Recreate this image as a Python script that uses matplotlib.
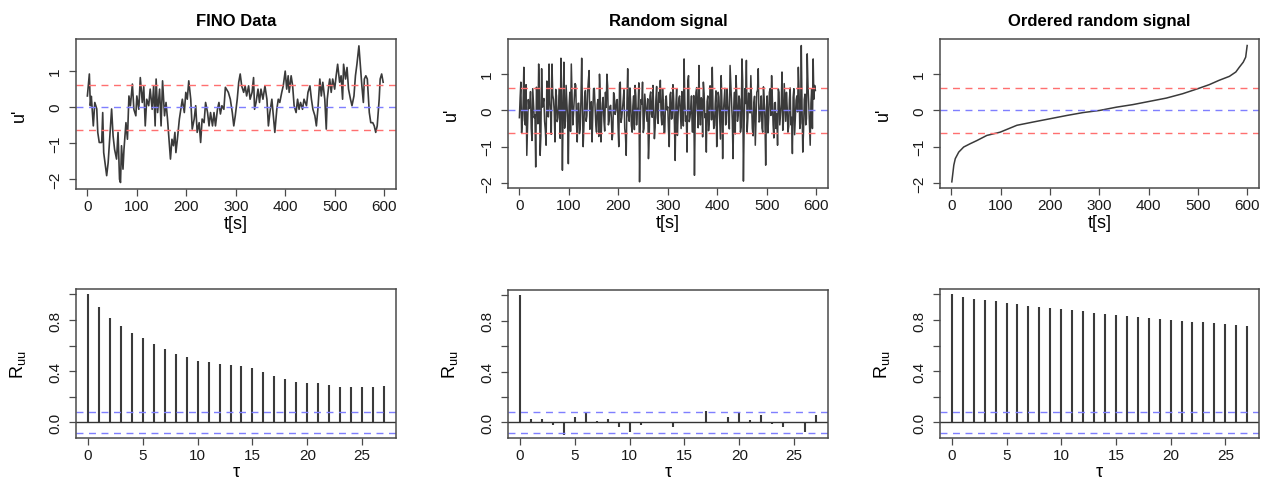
#Grafico de 6 paineis: series temporais (linha de cima) e autocorrelacao (linha de baixo)
import matplotlib
matplotlib.use('Agg')
import matplotlib.pyplot as plt

plt.rcParams['font.family'] = ['Liberation Sans', 'DejaVu Sans']

#Dados FINO
fino_t = [0, 4, 6, 8, 12, 15, 19, 21, 24, 29, 31, 33, 39, 42, 49, 52, 55, 59, 62, 65, 67, 69, 72, 74, 78, 81,
          84, 87, 91, 94, 98, 100, 104, 107, 111, 114, 117, 120, 124, 127, 131, 134, 137, 139, 142, 146, 149,
          152, 156, 159, 162, 166, 168, 171, 174, 177, 179, 182, 186, 189, 192, 196, 199, 202, 205, 209, 212,
          216, 219, 222, 226, 229, 232, 236, 239, 243, 246, 249, 253, 256, 259, 263, 266, 269, 272, 276, 279,
          285, 289, 293, 296, 299, 303, 306, 309, 312, 316, 319, 322, 326, 329, 333, 336, 338, 341, 345, 348,
          351, 355, 359, 363, 366, 369, 373, 376, 379, 383, 386, 389, 393, 396, 400, 403, 406, 408, 412, 415,
          418, 422, 425, 428, 431, 435, 438, 443, 446, 450, 453, 456, 460, 463, 466, 470, 473, 476, 480, 483,
          485, 488, 490, 493, 496, 500, 503, 506, 510, 513, 516, 518, 522, 525, 528, 532, 535, 539, 542, 545,
          549, 552, 555, 558, 560, 563, 566, 570, 573, 577, 580, 583, 586, 590, 592, 595, 598]
fino_u = [0.31, 0.92, 0.04, 0.30, -0.52, 0.13, -0.05, -0.70, -0.98, -0.98, -0.15, -1.26, -1.90, -1.54, -0.05,
          -0.80, -1.17, -1.44, -0.70, -2.00, -2.09, -1.07, -1.72, -1.17, -0.43, -0.89, 0.31, 0.04, 0.64, -0.06,
          -0.24, 0.31, -0.06, 0.82, 0.13, 0.57, -0.52, 0.22, 0.04, 0.50, -0.06, 0.59, -0.52, 0.78, -0.15, 0.50,
          -0.52, 0.73, -0.24, 0.13, -0.33, -1.07, -1.44, -0.89, -1.07, -0.70, -1.26, -0.89, -0.33, -0.06, 0.22,
          -0.15, 0.41, 0.22, 0.73, 0.22, -0.61, -0.33, 0.04, -0.70, -0.43, -0.98, -0.33, -0.43, 0.13, -0.15,
          -0.52, -0.15, -0.52, -0.15, -0.52, -0.06, 0.13, -0.19, 0.04, -0.06, 0.55, 0.41, 0.22, -0.15, -0.52,
          -0.24, 0.22, 0.69, 0.92, 0.59, 0.41, 0.59, 0.31, 0.59, 0.22, 0.41, 0.82, -0.06, 0.13, 0.50, 0.13,
          0.50, 0.22, 0.59, 0.22, -0.52, -0.15, 0.22, -0.24, -0.70, -0.06, 0.22, 0.13, 0.41, 0.59, 1.00, 0.50,
          0.87, 0.41, 0.87, 0.59, 0.04, -0.15, 0.22, -0.06, 0.13, -0.06, 0.22, 0.04, 0.41, 0.59, 0.22, -0.06,
          -0.24, -0.52, -0.06, 0.78, 0.31, 0.69, 0.22, -0.61, 0.22, 0.59, 0.78, 0.41, 0.78, 0.50, 0.87, 1.19,
          0.69, 0.87, 0.22, 1.19, 0.78, 1.10, 0.50, 0.22, 0.04, 0.31, 0.87, 1.19, 1.70, 1.15, 0.59, 0.13, 0.78,
          0.87, 0.78, -0.15, -0.43, -0.43, -0.52, -0.70, -0.52, 0.22, 0.78, 0.92, 0.69]

#Sinal aleatorio: picos a cada 3 s
rand_t = list(range(0, 600, 3))
rand_u = [-0.20, 0.78, -0.30, 1.19, -0.40, -1.24, 0.30, 0.10, -0.50, 0.60, -0.20, -1.56, 0.40, 1.28, -1.24,
          1.15, 0.20, -0.30, -0.96, 0.50, 1.28, -0.10, 1.28, 0.30, -0.87, 0.40, -0.20, 0.60, 1.44, -1.65,
          1.33, -0.30, 0.20, -1.47, 0.50, 1.28, -0.40, 0.30, 0.70, -0.87, 0.20, -0.50, 1.44, -1.00, 0.40,
          -0.30, 0.50, 1.10, -0.40, -0.87, 0.60, 0.10, -0.60, 0.30, 1.00, -0.87, 0.20, -0.30, 0.50, 1.00,
          -0.40, 0.10, -0.20, -0.60, 0.40, 0.00, 0.30, -1.00, 0.78, -0.20, 0.30, -0.50, -1.24, 1.15, -0.30,
          0.20, -0.60, 0.40, 0.69, -0.40, 0.10, -1.97, 0.30, 0.78, -0.50, 0.20, -0.30, -1.33, 0.40, -0.10,
          0.69, -0.78, 0.30, -0.20, 0.50, 0.83, -0.40, 0.20, -0.60, 0.40, 0.10, -1.00, 0.50, -0.20, 0.30,
          -1.38, 0.60, -0.10, 0.40, -0.50, 0.20, 1.42, -0.30, -1.15, 0.96, -0.20, 0.40, -0.60, -1.79, 0.50,
          0.00, 1.24, -0.40, 0.30, 0.78, -0.20, -1.15, 0.40, -0.30, 0.60, 1.19, -0.50, 0.20, -1.00, 0.50,
          -0.20, 0.96, -1.33, 0.30, -0.40, 0.60, -0.10, 1.24, 0.20, -1.33, 0.50, 0.96, -0.30, 0.40, -0.60,
          1.42, -1.95, 0.60, 1.38, -0.20, 0.40, 0.96, -0.50, 0.20, -0.96, 0.50, 1.15, -0.30, 0.40, -0.60,
          0.30, -1.51, 0.40, -0.20, 0.60, 0.96, -0.40, 0.20, -0.50, -0.96, 0.50, -0.10, 1.06, -0.30, 0.20,
          0.50, -0.60, 0.30, -0.40, -1.19, 0.60, -0.20, 0.40, 1.19, -0.50, 1.79, -1.15, 0.30, -0.40, 1.56,
          0.20, -0.96, 0.60, 1.42, 0.69]
#Sinal aleatorio: valores intermediarios (t = 1.5, 4.5, ...)
rand_t_mid = [t + 1.5 for t in rand_t]
rand_u_mid = [0.35, -0.62, 0.15, -0.28, 0.71, -0.44, 0.05, 0.52, -0.83, 0.22,
              -0.12, 0.64, -0.37, 0.48, -0.71, 0.09, 0.33, -0.55, 0.81, -0.18,
              0.27, -0.66, 0.42, -0.04, 0.58, -0.31, 0.13, -0.77, 0.39, 0.02,
              -0.49, 0.69, -0.23, 0.11, -0.58, 0.46, -0.09, 0.74, -0.35, 0.19,
              -0.64, 0.31, 0.07, -0.42, 0.55, -0.15, 0.83, -0.52, 0.24, -0.06,
              0.61, -0.39, 0.17, -0.72, 0.44, -0.21, 0.36, -0.57, 0.08, 0.67,
              -0.29, 0.14, -0.81, 0.49, -0.11, 0.28, -0.46, 0.73, -0.33, 0.04,
              0.57, -0.68, 0.21, -0.14, 0.62, -0.41, 0.12, -0.53, 0.38, -0.02,
              0.76, -0.27, 0.18, -0.61, 0.45, -0.08, 0.32, -0.74, 0.51, -0.19,
              0.09, -0.47, 0.66, -0.36, 0.23, -0.13, 0.59, -0.63, 0.29, 0.01,
              -0.54, 0.43, -0.24, 0.71, -0.38, 0.16, -0.69, 0.34, -0.05, 0.52,
              -0.43, 0.26, -0.16, 0.79, -0.31, 0.07, -0.59, 0.41, -0.22, 0.63,
              -0.48, 0.13, 0.35, -0.73, 0.47, -0.10, 0.25, -0.56, 0.68, -0.26,
              0.06, -0.42, 0.54, -0.17, 0.37, -0.79, 0.21, -0.03, 0.61, -0.34,
              0.15, -0.51, 0.72, -0.28, 0.10, -0.65, 0.44, -0.12, 0.30, -0.45,
              0.82, -0.37, 0.19, -0.60, 0.48, -0.07, 0.27, -0.70, 0.39, -0.20,
              0.56, -0.32, 0.11, -0.49, 0.65, -0.25, 0.04, -0.62, 0.50, -0.14,
              0.33, -0.76, 0.22, -0.09, 0.59, -0.40, 0.17, -0.55, 0.74, -0.30,
              0.08, -0.44, 0.62, -0.19, 0.36, -0.67, 0.28, -0.04, 0.53, -0.35,
              0.12, -0.58, 0.45, -0.23, 0.70, -0.39, 0.20, -0.50, 0.31, 0.55]

#Sinal aleatorio ordenado
ordered_t = [1, 5, 8, 15, 25, 38, 52, 72, 99, 133, 166, 200, 234, 267, 301, 335, 368, 402, 436, 469, 500,
             523, 543, 564, 577, 584, 592, 597, 600]
ordered_u = [-1.97, -1.51, -1.33, -1.15, -1.01, -0.92, -0.83, -0.69, -0.60, -0.41, -0.32, -0.23, -0.14,
             -0.06, 0.00, 0.09, 0.16, 0.25, 0.34, 0.46, 0.60, 0.71, 0.83, 0.94, 1.06, 1.19, 1.33, 1.47, 1.79]

#Linhas de referencia
sd_level = 0.62
conf_level = 0.08

#Autocorrelacao
lags = list(range(28))
acf_fino = [1.0, 0.90, 0.813, 0.756, 0.695, 0.656, 0.612, 0.570, 0.533, 0.507, 0.478, 0.468, 0.460, 0.452,
            0.442, 0.421, 0.395, 0.363, 0.337, 0.316, 0.311, 0.306, 0.290, 0.280, 0.280, 0.280, 0.280, 0.285]
acf_rand = [1.0, 0.026, 0.026, -0.02, -0.098, 0.04, 0.074, 0.008, 0.024, -0.034, -0.077, -0.018, -0.008,
            -0.005, -0.034, -0.005, -0.008, 0.093, -0.005, 0.04, 0.082, 0.021, 0.061, -0.013, -0.04, -0.008,
            -0.072, 0.056]
acf_ordered = [1.0, 0.983, 0.967, 0.957, 0.946, 0.933, 0.923, 0.912, 0.902, 0.894, 0.884, 0.876, 0.868,
               0.858, 0.850, 0.839, 0.831, 0.824, 0.818, 0.810, 0.803, 0.795, 0.787, 0.782, 0.774, 0.769,
               0.763, 0.756]

titles = ['FINO Data', 'Random signal', 'Ordered random signal']

#Junta os picos e os valores intermediarios do sinal aleatorio
rand_pairs = sorted(zip(rand_t + rand_t_mid, rand_u + rand_u_mid))
rand_all_t = [p[0] for p in rand_pairs]
rand_all_u = [p[1] for p in rand_pairs]

W, H = 1264, 481
fig = plt.figure(figsize=(W / 100, H / 100), dpi=100)

#Posicao dos paineis em pixels (esquerda, direita, topo, base)
top_boxes = [(76, 396, 40, 190), (508, 828, 40, 189), (940, 1259, 40, 189)]
bot_boxes = [(76, 396, 290, 439), (508, 828, 291, 439), (940, 1259, 290, 439)]

line_col = '#3a3a3a'
box_col = '#4a4a4a'
red_col = '#ff7070'
blue_col = '#7f7fff'


def make_ax(box):
    l, r, t, b = box
    ax = fig.add_axes([l / W, (H - b) / H, (r - l) / W, (b - t) / H])
    for s in ax.spines.values():
        s.set_color(box_col)
        s.set_linewidth(1.1)
    ax.tick_params(direction='out', length=5, width=0.9, color=box_col, labelsize=11,
                   labelcolor='#1a1a1a')
    ax.tick_params(axis='x', pad=2)
    ax.tick_params(axis='y', pad=5, labelrotation=90)
    return ax


def fix_ylabels(ax):
    for lab in ax.get_yticklabels():
        lab.set_va('center')


series = [(fino_t, fino_u), (rand_all_t, rand_all_u), (ordered_t, ordered_u)]
ylims = [(-2.27, 1.89), (-2.14, 1.97), (-2.14, 1.97)]
widths = [1.2, 1.1, 1.1]

#Linha de cima: series temporais
for i in range(3):
    ax = make_ax(top_boxes[i])
    x, y = series[i]
    ax.plot(x, y, color=line_col, lw=widths[i])
    ax.axhline(0, color=blue_col, lw=1.0, dashes=(5, 4))
    ax.axhline(sd_level, color=red_col, lw=1.0, dashes=(5, 4))
    ax.axhline(-sd_level, color=red_col, lw=1.0, dashes=(5, 4))
    ax.set_xlim(-23, 624)
    ax.set_ylim(*ylims[i])
    ax.set_xticks([0, 100, 200, 300, 400, 500, 600])
    ax.set_yticks([-2, -1, 0, 1])
    ax.set_yticklabels(['\u22122', '\u22121', '0', '1'])
    fix_ylabels(ax)
    ax.set_title(titles[i], fontsize=12, fontweight='bold', pad=10)
    ax.set_xlabel('t[s]', fontsize=13)
    ax.xaxis.set_label_coords(0.5, -0.175)
    ax.set_ylabel("u'", fontsize=13)
    ax.yaxis.set_label_coords(-0.15, 0.5)

#Linha de baixo: autocorrelacao
acfs = [acf_fino, acf_rand, acf_ordered]
for i in range(3):
    ax = make_ax(bot_boxes[i])
    ax.vlines(lags, 0, acfs[i], color=line_col, lw=1.5)
    ax.axhline(0, color='#333333', lw=1.0)
    ax.axhline(conf_level, color=blue_col, lw=1.0, dashes=(5, 4))
    ax.axhline(-conf_level, color=blue_col, lw=1.0, dashes=(5, 4))
    ax.set_xlim(-1.08, 28.08)
    ax.set_ylim(-0.123, 1.043)
    ax.set_xticks([0, 5, 10, 15, 20, 25])
    ax.set_yticks([0.0, 0.2, 0.4, 0.6, 0.8, 1.0])
    ax.set_yticklabels(['0.0', '', '0.4', '', '0.8', ''])
    fix_ylabels(ax)
    ax.set_xlabel('\u03c4', fontsize=13, va='bottom')
    ax.xaxis.set_label_coords(0.5, -0.285)
    ax.set_ylabel(r'$\mathregular{R_{uu}}$', fontsize=13)
    ax.yaxis.set_label_coords(-0.15, 0.5)

fig.savefig('out.png', dpi=100)
